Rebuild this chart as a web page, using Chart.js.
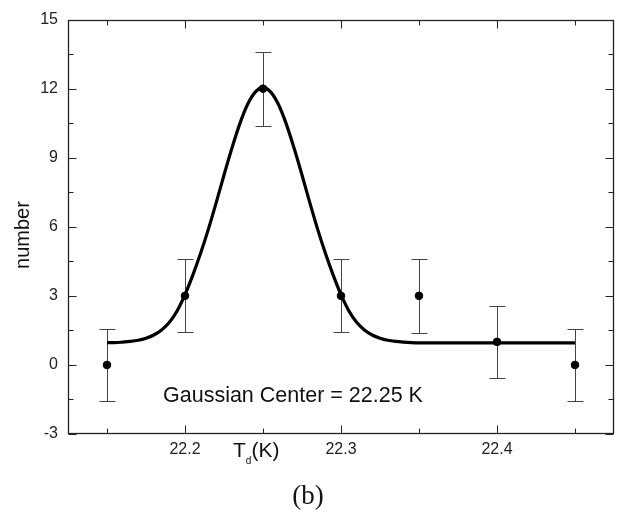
<!DOCTYPE html>
<html>
<head>
<meta charset="utf-8">
<script src="https://cdn.jsdelivr.net/npm/chart.js@4.4.1/dist/chart.umd.min.js"></script>
<style>
body { margin: 0; background: #fff; }
canvas { display: block; }
</style>
</head>
<body>
<canvas id="myChart" width="621" height="513"></canvas>
<script>
// measured points with error bars
var temps = [22.15, 22.2, 22.25, 22.3, 22.35, 22.4, 22.45];
var counts = [0, 3, 12, 3, 3, 1, 0];
var errors = [1.57, 1.58, 1.6, 1.58, 1.6, 1.57, 1.57];

// gaussian fit curve
var fitX = [22.15, 22.155, 22.16, 22.165, 22.17, 22.175, 22.18, 22.185, 22.19, 22.195, 22.2,
            22.205, 22.21, 22.215, 22.22, 22.225, 22.23, 22.235, 22.24, 22.245, 22.25,
            22.255, 22.26, 22.265, 22.27, 22.275, 22.28, 22.285, 22.29, 22.295, 22.3,
            22.305, 22.31, 22.315, 22.32, 22.325, 22.33, 22.335, 22.34, 22.345, 22.35,
            22.375, 22.4, 22.425, 22.45];
var fitY = [0.97, 0.97, 0.99, 1.02, 1.07, 1.16, 1.3, 1.52, 1.85, 2.35, 3.05,
            3.9, 4.85, 5.9, 7.05, 8.25, 9.4, 10.45, 11.3, 11.85, 12.06,
            11.85, 11.3, 10.45, 9.4, 8.25, 7.05, 5.9, 4.85, 3.9, 3.05,
            2.35, 1.85, 1.52, 1.3, 1.16, 1.07, 1.02, 0.99, 0.97, 0.96,
            0.96, 0.96, 0.96, 0.96];

var xTicks = [22.15, 22.2, 22.25, 22.3, 22.35, 22.4, 22.45];
var xLabels = ['', '22.2', '', '22.3', '', '22.4', ''];
var yTicks = [-3, 0, 3, 6, 9, 12, 15];
var yMinor = [-1.5, 1.5, 4.5, 7.5, 10.5, 13.5];

var ctx = document.getElementById('myChart');

var framePlugin = {
    id: 'frame',
    beforeDatasetsDraw: function (chart) {
        var c = chart.ctx, xs = chart.scales.x, ys = chart.scales.y;
        c.save();
        c.strokeStyle = '#444';
        c.lineWidth = 1;
        for (var i = 0; i < temps.length; i++) {
            var px = Math.round(xs.getPixelForValue(temps[i])) + 0.5;
            var top = Math.round(ys.getPixelForValue(counts[i] + errors[i])) + 0.5;
            var bot = Math.round(ys.getPixelForValue(counts[i] - errors[i])) + 0.5;
            c.beginPath();
            c.moveTo(px, top); c.lineTo(px, bot);
            c.moveTo(px - 8, top); c.lineTo(px + 8, top);
            c.moveTo(px - 8, bot); c.lineTo(px + 8, bot);
            c.stroke();
        }
        c.restore();
    },
    afterDraw: function (chart) {
        var c = chart.ctx, a = chart.chartArea, xs = chart.scales.x, ys = chart.scales.y;
        var L = Math.round(a.left) + 0.5, R = Math.round(a.right) - 0.5;
        var T = Math.round(a.top) + 0.5, B = Math.round(a.bottom) - 0.5;
        c.save();
        c.strokeStyle = '#222';
        c.lineWidth = 1.3;
        c.strokeRect(L, T, R - L, B - T);

        c.lineWidth = 1;
        c.beginPath();
        xTicks.forEach(function (v, i) {
            var px = Math.round(xs.getPixelForValue(v)) + 0.5;
            var len = xLabels[i] ? 8 : 5;
            c.moveTo(px, B); c.lineTo(px, B - len);
            c.moveTo(px, T); c.lineTo(px, T + len);
        });
        yTicks.forEach(function (v) {
            var py = Math.round(ys.getPixelForValue(v)) + 0.5;
            c.moveTo(L, py); c.lineTo(L + 8, py);
            c.moveTo(R, py); c.lineTo(R - 8, py);
        });
        yMinor.forEach(function (v) {
            var py = Math.round(ys.getPixelForValue(v)) + 0.5;
            c.moveTo(L, py); c.lineTo(L + 5, py);
            c.moveTo(R, py); c.lineTo(R - 5, py);
        });
        c.stroke();

        c.fillStyle = '#111';
        c.textBaseline = 'alphabetic';

        // y title
        c.save();
        c.translate(29, 235);
        c.rotate(-Math.PI / 2);
        c.textAlign = 'center';
        c.font = '20px "Liberation Sans", Arial, sans-serif';
        c.fillText('number', 0, 0);
        c.restore();

        // x title T_d(K)
        c.textAlign = 'left';
        c.font = '21px "Liberation Sans", Arial, sans-serif';
        var x0 = 233;
        c.fillText('T', x0, 457);
        x0 += c.measureText('T').width;
        c.font = '10px "Liberation Sans", Arial, sans-serif';
        c.fillText('d', x0, 464);
        x0 += c.measureText('d').width;
        c.font = '21px "Liberation Sans", Arial, sans-serif';
        c.fillText('(K)', x0, 457);

        // annotation
        c.font = '21.5px "Liberation Sans", Arial, sans-serif';
        c.fillText('Gaussian Center = 22.25 K', 163, 402);

        // panel label
        c.textAlign = 'center';
        c.font = '27px "Liberation Serif", "Times New Roman", serif';
        c.fillText('(b)', 308, 504);
        c.restore();
    }
};

var myChart = new Chart(ctx, {
    type: 'scatter',
    data: {
        datasets: [{
            label: 'data',
            data: temps.map(function (t, i) { return { x: t, y: counts[i] }; }),
            backgroundColor: '#000',
            borderColor: '#000',
            pointRadius: 3.8,
            pointHoverRadius: 3.8
        }, {
            label: 'fit',
            data: fitX.map(function (t, i) { return { x: t, y: fitY[i] }; }),
            showLine: true,
            borderColor: '#000',
            borderWidth: 3.2,
            pointRadius: 0,
            cubicInterpolationMode: 'monotone'
        }]
    },
    options: {
        responsive: false,
        devicePixelRatio: 1,
        animation: false,
        layout: { padding: { top: 13, right: 7, left: 0, bottom: 0 } },
        plugins: { legend: { display: false }, tooltip: { enabled: false } },
        scales: {
            x: {
                type: 'linear',
                min: 22.125,
                max: 22.475,
                grid: { display: false, drawTicks: false },
                border: { display: false },
                afterBuildTicks: function (s) { s.ticks = xTicks.map(function (v) { return { value: v }; }); },
                afterFit: function (s) { s.height = 79; },
                ticks: {
                    autoSkip: false,
                    maxRotation: 0,
                    padding: 6,
                    color: '#222',
                    font: { family: '"Liberation Sans", Arial, sans-serif', size: 16 },
                    callback: function (v, i) { return xLabels[i]; }
                }
            },
            y: {
                min: -3,
                max: 15,
                grid: { display: false, drawTicks: false },
                border: { display: false },
                afterBuildTicks: function (s) { s.ticks = yTicks.map(function (v) { return { value: v }; }); },
                afterFit: function (s) { s.width = 68; },
                ticks: {
                    padding: 10,
                    color: '#222',
                    font: { family: '"Liberation Sans", Arial, sans-serif', size: 16 },
                    callback: function (v) { return String(v); }
                }
            }
        }
    },
    plugins: [framePlugin]
});
</script>
</body>
</html>
